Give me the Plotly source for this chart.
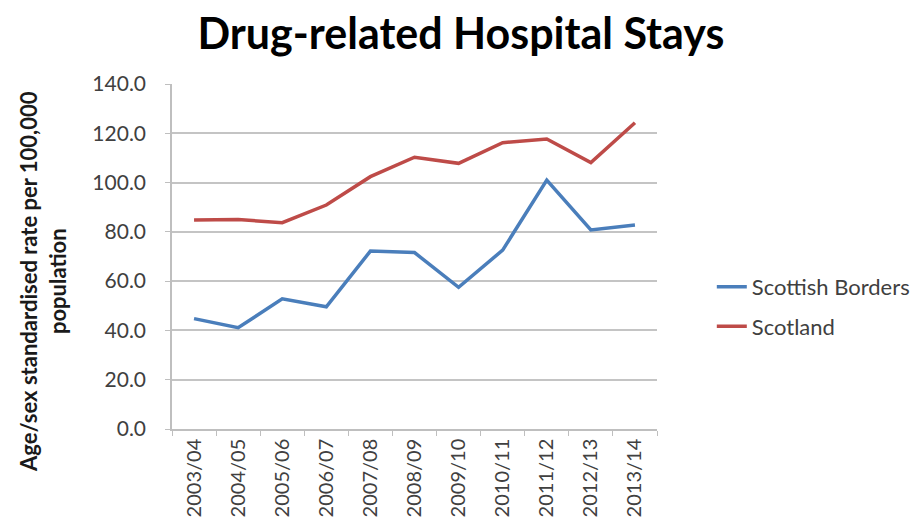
import plotly.graph_objects as go

years = ["2003/04", "2004/05", "2005/06", "2006/07", "2007/08", "2008/09",
         "2009/10", "2010/11", "2011/12", "2012/13", "2013/14"]
borders = [44.8, 41.1, 52.8, 49.6, 72.2, 71.6, 57.5, 72.6, 101.0, 80.8, 82.8]
scotland = [84.8, 85.0, 83.7, 90.9, 102.4, 110.3, 107.8, 116.2, 117.7, 108.1, 124.3]

font_family = "Lato, 'Open Sans', sans-serif"

fig = go.Figure()
fig.add_trace(go.Scatter(x=years, y=borders, mode="lines", name="Scottish Borders",
                         line=dict(color="#4a7ebb", width=3.5), legendgroup="a"))
fig.add_trace(go.Scatter(x=years, y=scotland, mode="lines", name="Scotland",
                         line=dict(color="#be4b48", width=3.5), legendgroup="b"))

fig.update_layout(
    width=907, height=515,
    margin=dict(l=164, r=258, t=76, b=94, autoexpand=False),
    paper_bgcolor="white", plot_bgcolor="white",
    font=dict(family=font_family, color="#404040"),
    title=dict(text="<b>Drug-related Hospital Stays</b>", x=0.4994, xanchor="center",
               y=0.9495, yanchor="middle", font=dict(size=43, color="#000000", family=font_family)),
    showlegend=True,
    legend=dict(x=1.113, xanchor="left", y=0.354, yanchor="middle",
                font=dict(size=22, color="#404040"), tracegroupgap=8,
                bgcolor="rgba(0,0,0,0)"),
    xaxis=dict(type="category", tickangle=-90, tickfont=dict(size=20, color="#404040"),
               range=[-0.5, 10.5], automargin=False,
               showline=True, linecolor="#bfbfbf", linewidth=1.5,
               showgrid=False, ticks="outside", ticklen=5, tickcolor="#bfbfbf",
               tickson="boundaries"),
    yaxis=dict(range=[0, 140], dtick=20, tickformat=".1f", automargin=False,
               tickfont=dict(size=21, color="#404040"),
               showline=True, linecolor="#bfbfbf", linewidth=1.5,
               showgrid=True, gridcolor="#c4c4c4", gridwidth=1.5,
               ticks="outside", ticklen=5, tickcolor="#bfbfbf",
               zeroline=False, ticklabelstandoff=15),
    annotations=[dict(text="<b>Age/sex standardised rate per 100,000<br>population</b>",
                      textangle=-90, xref="paper", yref="paper",
                      x=-0.266, y=0.429, xanchor="center", yanchor="middle",
                      showarrow=False, align="center",
                      font=dict(size=22, color="#1a1a1a", family=font_family))],
)

fig.write_html("out.html")
